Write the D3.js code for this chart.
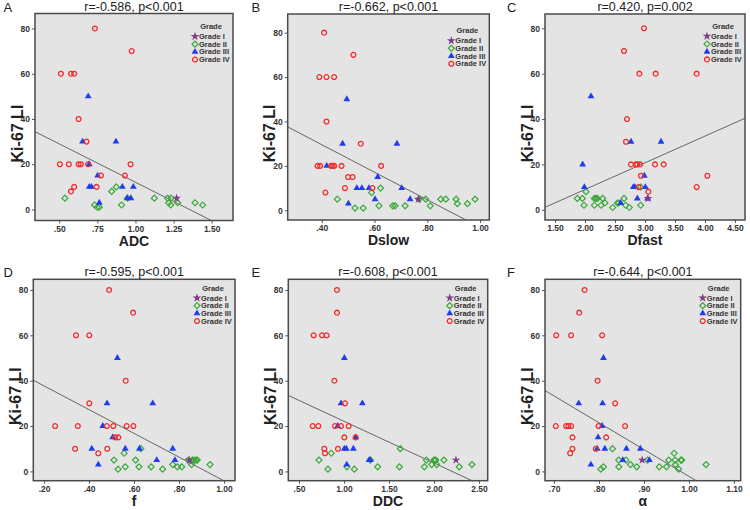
<!DOCTYPE html>
<html>
<head>
<meta charset="utf-8">
<script src="https://cdn.jsdelivr.net/npm/d3@7"></script>
<style>
  body { margin: 0; background: #fff; }
  svg { display: block; font-family: "Liberation Sans", Arial, sans-serif; }
</style>
</head>
<body>
<svg id="chart" width="750" height="510"></svg>
<script>
// ---- data: [parameter value, Ki-67 LI] ----
var grades = ["Grade I", "Grade II", "Grade III", "Grade IV"];
var yTicks = [0, 20, 40, 60, 80];

// A - ADC
var adcG1 = [[1.27, 5]];
var adcG2 = [[0.537, 5], [0.732, 2], [0.749, 1], [0.763, 1], [0.844, 8], [0.874, 10], [0.909, 2], [0.948, 5],
  [1.124, 5], [1.211, 5], [1.233, 5], [1.218, 3], [1.231, 2], [1.277, 3], [1.391, 3], [1.441, 2]];
var adcG3 = [[0.690, 50], [0.653, 30], [0.872, 30], [0.697, 20], [0.752, 15], [0.697, 10], [0.712, 10],
  [0.914, 10], [0.986, 10], [0.946, 5], [0.970, 5], [0.763, 3]];
var adcG4 = [[0.734, 80], [0.975, 70], [0.511, 60], [0.577, 60], [0.598, 60], [0.627, 40], [0.679, 30],
  [0.504, 20], [0.563, 20], [0.627, 20], [0.642, 20], [0.690, 20], [0.968, 20], [0.774, 15], [0.931, 15],
  [0.598, 10], [0.745, 10], [0.577, 8]];
var adcTicks = [0.5, 0.75, 1.0, 1.25, 1.5];
var adcFit = [45.95, -33.9];   // intercept, slope

// B - Dslow
var dslowG1 = [[0.766, 5]];
var dslowG2 = [[0.459, 5], [0.526, 1], [0.557, 1], [0.589, 8], [0.623, 10], [0.617, 2], [0.669, 2], [0.678, 2],
  [0.716, 2], [0.769, 5], [0.794, 5], [0.811, 2], [0.851, 5], [0.870, 5], [0.909, 5], [0.914, 3], [0.952, 3],
  [0.981, 5]];
var dslowG3 = [[0.495, 50], [0.479, 30], [0.685, 30], [0.419, 20], [0.612, 15], [0.533, 10], [0.552, 10],
  [0.579, 10], [0.703, 10], [0.602, 5], [0.735, 5], [0.501, 3]];
var dslowG4 = [[0.409, 80], [0.520, 70], [0.391, 60], [0.418, 60], [0.447, 60], [0.418, 40], [0.548, 30],
  [0.384, 20], [0.394, 20], [0.435, 20], [0.441, 20], [0.447, 20], [0.475, 20], [0.625, 20], [0.500, 15],
  [0.517, 15], [0.488, 10], [0.592, 10], [0.414, 8]];
var dslowTicks = [0.4, 0.6, 0.8, 1.0];
var dslowFit = [54.4, -62.1];

// C - Dfast
var dfastG1 = [[3.05, 5]];
var dfastG2 = [[1.872, 5], [1.956, 5], [2.017, 8], [1.983, 2], [2.156, 5], [2.183, 5], [2.206, 5], [2.156, 2],
  [2.267, 2], [2.294, 5], [2.333, 3], [2.461, 1], [2.539, 3], [2.561, 3], [2.65, 5], [2.678, 2], [2.739, 1],
  [2.928, 10], [2.928, 2]];
var dfastG3 = [[2.10, 50], [2.767, 30], [3.267, 30], [1.961, 20], [2.989, 15], [1.989, 10], [2.806, 10],
  [2.833, 10], [3.006, 10], [2.872, 5], [3.044, 5], [2.594, 3]];
var dfastG4 = [[2.983, 80], [2.65, 70], [2.906, 60], [3.178, 60], [3.861, 60], [2.70, 40], [2.683, 30],
  [2.767, 20], [2.85, 20], [2.872, 20], [2.917, 20], [3.167, 20], [3.311, 20], [2.933, 15], [4.039, 15],
  [2.894, 10], [3.861, 10], [3.056, 8]];
var dfastTicks = [1.5, 2.0, 2.5, 3.0, 3.5, 4.0, 4.5];
var dfastFit = [-14.6, 11.77];

// D - f
var fG1 = [[0.846, 5]];
var fG2 = [[0.630, 10], [0.556, 8], [0.511, 5], [0.607, 5], [0.529, 1], [0.561, 2], [0.622, 2], [0.676, 2],
  [0.727, 1], [0.772, 3], [0.793, 2], [0.812, 2], [0.841, 5], [0.859, 5], [0.867, 5], [0.876, 5], [0.856, 3],
  [0.881, 5], [0.938, 3]];
var fG3 = [[0.526, 50], [0.480, 30], [0.683, 30], [0.461, 20], [0.505, 15], [0.412, 10], [0.561, 10],
  [0.624, 10], [0.772, 10], [0.701, 5], [0.782, 5], [0.441, 3]];
var fG4 = [[0.489, 80], [0.596, 70], [0.342, 60], [0.401, 60], [0.563, 40], [0.401, 30], [0.249, 20],
  [0.350, 20], [0.479, 20], [0.508, 20], [0.567, 20], [0.597, 20], [0.516, 15], [0.530, 15], [0.338, 10],
  [0.481, 10], [0.441, 8]];
var fTicks = [0.2, 0.4, 0.6, 0.8, 1.0];
var fFit = [48.15, -52.3];

// E - DDC
var ddcG1 = [[2.244, 5]];
var ddcG2 = [[0.859, 8], [0.722, 5], [0.822, 1], [1.033, 2], [1.115, 1], [1.293, 5], [1.374, 2], [1.615, 2],
  [1.626, 10], [1.893, 2], [1.915, 5], [1.974, 3], [2.0, 5], [2.01, 5], [2.02, 5], [2.03, 3], [2.11, 5],
  [2.281, 2], [2.422, 3]];
var ddcG3 = [[1.004, 50], [0.967, 30], [1.204, 30], [0.930, 20], [1.13, 15], [1.004, 10], [1.026, 10],
  [1.104, 10], [1.278, 5], [1.293, 5], [1.03, 3]];
var ddcG4 = [[0.922, 80], [0.922, 70], [0.663, 60], [0.756, 60], [0.807, 60], [0.893, 40], [1.011, 30],
  [0.652, 20], [0.715, 20], [0.9, 20], [0.967, 20], [1.052, 20], [1.004, 15], [1.13, 15], [0.781, 10],
  [0.933, 10], [0.789, 8]];
var ddcTicks = [0.5, 1.0, 1.5, 2.0, 2.5];
var ddcFit = [40.5, -18.4];

// F - alpha
var alphaG1 = [[0.896, 5]];
var alphaG2 = [[0.830, 10], [0.844, 5], [0.860, 5], [0.810, 2], [0.804, 1], [0.844, 2], [0.870, 3], [0.884, 2],
  [0.908, 5], [0.934, 2], [0.950, 2], [0.955, 5], [0.967, 8], [0.969, 5], [0.970, 3], [0.982, 5], [0.984, 5],
  [0.977, 1], [1.038, 3]];
var alphaG3 = [[0.810, 50], [0.755, 30], [0.808, 30], [0.807, 20], [0.798, 15], [0.796, 10], [0.813, 10],
  [0.861, 10], [0.892, 10], [0.853, 5], [0.912, 5], [0.782, 3]];
var alphaG4 = [[0.768, 80], [0.756, 70], [0.705, 60], [0.738, 60], [0.807, 60], [0.797, 40], [0.836, 30],
  [0.704, 20], [0.727, 20], [0.732, 20], [0.738, 20], [0.799, 20], [0.858, 20], [0.741, 15], [0.816, 15],
  [0.741, 10], [0.793, 10], [0.736, 8]];
var alphaTicks = [0.7, 0.8, 0.9, 1.0, 1.1];
var alphaFit = [116.1, -118.3];

// ---- panels: frame box in px, axis domains ----
var panels = [
  {id: "A", xlab: "ADC",   stat: "r=-0.586, p<0.001", box: [35, 13.5, 233, 220.5],   xd: [0.341, 1.640], yd: [-4.85, 86.6],
   g: [adcG1, adcG2, adcG3, adcG4], ticks: adcTicks, fit: adcFit},
  {id: "B", xlab: "Dslow", stat: "r=-0.662, p<0.001", box: [287.7, 14, 489.3, 220],  xd: [0.271, 1.035], yd: [-4.37, 88.4],
   g: [dslowG1, dslowG2, dslowG3, dslowG4], ticks: dslowTicks, fit: dslowFit},
  {id: "C", xlab: "Dfast", stat: "r=0.420, p=0.002",  box: [545, 14, 745, 220],      xd: [1.333, 4.667], yd: [-4.5, 86.3],
   g: [dfastG1, dfastG2, dfastG3, dfastG4], ticks: dfastTicks, fit: dfastFit},
  {id: "D", xlab: "f",     stat: "r=-0.595, p<0.001", box: [33.3, 279.3, 235, 480.7], xd: [0.152, 1.049], yd: [-4.1, 84.7],
   g: [fG1, fG2, fG3, fG4], ticks: fTicks, fit: fFit},
  {id: "E", xlab: "DDC",   stat: "r=-0.608, p<0.001", box: [288.3, 279.3, 487.7, 480.7], xd: [0.381, 2.597], yd: [-4.1, 84.7],
   g: [ddcG1, ddcG2, ddcG3, ddcG4], ticks: ddcTicks, fit: ddcFit},
  {id: "F", xlab: "\u03b1", stat: "r=-0.644, p<0.001", box: [545, 279.3, 740.7, 480.7], xd: [0.680, 1.115], yd: [-4.1, 84.7],
   g: [alphaG1, alphaG2, alphaG3, alphaG4], ticks: alphaTicks, fit: alphaFit}
];

var colors = ["#7d3c8c", "#3aa83a", "#1e3cf0", "#f22a2a"];

var svg = d3.select("#chart");

function fmtX(v) {
  var s = d3.format(".2f")(v);
  return s.charAt(0) == "0" ? s.slice(1) : s;
}

// draws one marker of grade k
function marker(sel, k) {
  if (k == 0) {
    sel.append("path").attr("d", d3.symbol(d3.symbolStar, 24)()).attr("fill", colors[0]);
  } else if (k == 1) {
    sel.append("path").attr("d", d3.symbol(d3.symbolSquare, 18)()).attr("transform", "rotate(45)")
      .attr("fill", "none").attr("stroke", colors[1]).attr("stroke-width", 1.2);
  } else if (k == 2) {
    sel.append("path").attr("d", d3.symbol(d3.symbolTriangle, 20)()).attr("fill", colors[2]);
  } else {
    sel.append("circle").attr("r", 2.4).attr("fill", "none").attr("stroke", colors[3]).attr("stroke-width", 1.3);
  }
}

panels.forEach(function(p, pi) {
  var x0 = p.box[0], y0 = p.box[1], x1 = p.box[2], y1 = p.box[3];
  var x = d3.scaleLinear().domain(p.xd).range([x0, x1]);
  var y = d3.scaleLinear().domain(p.yd).range([y1, y0]);
  var g = svg.append("g").attr("class", "panel");

  g.append("rect").attr("x", x0).attr("y", y0).attr("width", x1 - x0).attr("height", y1 - y0)
    .attr("fill", "#e4e4e4");

  // axes
  var ya = g.append("g").attr("transform", "translate(" + x0 + ",0)")
    .call(d3.axisLeft(y).tickValues(yTicks).tickSize(3).tickPadding(2).tickFormat(d3.format("d")));
  var xa = g.append("g").attr("transform", "translate(0," + y1 + ")")
    .call(d3.axisBottom(x).tickValues(p.ticks).tickSize(3).tickPadding(2).tickFormat(fmtX));
  [ya, xa].forEach(function(a) {
    a.select(".domain").remove();
    a.selectAll("line").attr("stroke", "#555");
    a.selectAll("text").attr("fill", "#333").style("font-size", "8.5px").style("font-weight", "bold")
      .style("font-family", "'Liberation Sans', Arial, sans-serif");
  });

  // fit line
  var clipId = "clip" + pi;
  g.append("clipPath").attr("id", clipId).append("rect")
    .attr("x", x0).attr("y", y0).attr("width", x1 - x0).attr("height", y1 - y0);
  g.append("line").attr("clip-path", "url(#" + clipId + ")")
    .attr("x1", x(p.xd[0])).attr("y1", y(p.fit[0] + p.fit[1] * p.xd[0]))
    .attr("x2", x(p.xd[1])).attr("y2", y(p.fit[0] + p.fit[1] * p.xd[1]))
    .attr("stroke", "#666").attr("stroke-width", 1);

  // points
  [1, 2, 3, 0].forEach(function(k) {
    g.selectAll(".pt" + k).data(p.g[k]).enter().append("g")
      .attr("class", "pt" + k)
      .attr("transform", function(d) { return "translate(" + x(d[0]) + "," + y(d[1]) + ")"; })
      .each(function() { marker(d3.select(this), k); });
  });

  // frame
  g.append("rect").attr("x", x0).attr("y", y0).attr("width", x1 - x0).attr("height", y1 - y0)
    .attr("fill", "none").attr("stroke", "#4a4a4a").attr("stroke-width", 1.5);

  // legend
  var ly = y(80);
  g.append("text").attr("x", x1 - 22).attr("y", ly - 2).attr("dy", "0.35em")
    .attr("text-anchor", "middle").style("font-size", "7.5px").style("font-weight", "bold")
    .attr("fill", "#333").text("Grade");
  grades.forEach(function(name, k) {
    var row = g.append("g").attr("transform", "translate(" + (x1 - 38) + "," + (ly + 8 + k * 7.7) + ")");
    marker(row, k);
    row.append("text").attr("x", 4).attr("dy", "0.35em").style("font-size", "7.5px")
      .style("font-weight", "bold").attr("fill", "#333").text(name);
  });

  // titles
  g.append("text").attr("x", (x0 + x1) / 2).attr("y", y0 - 3).attr("text-anchor", "middle")
    .style("font-size", "12.5px").attr("fill", "#222").text(p.stat);
  g.append("text").attr("x", pi % 3 == 0 ? 3.5 : (pi % 3 == 1 ? 251.5 : 507)).attr("y", y0 - 2)
    .style("font-size", "13px").attr("fill", "#222").text(p.id);
  g.append("text").attr("x", (x0 + x1) / 2).attr("y", y1 + 25).attr("text-anchor", "middle")
    .style("font-size", "14px").style("font-weight", "bold").attr("fill", "#222").text(p.xlab);
  g.append("text").attr("transform", "translate(" + (x0 - 18) + "," + (y0 + 0.58 * (y1 - y0)) + ") rotate(-90)")
    .attr("dy", "0.35em").attr("text-anchor", "middle")
    .style("font-size", "16px").style("font-weight", "bold").attr("fill", "#222").text("Ki-67 LI");
});
</script>
</body>
</html>
